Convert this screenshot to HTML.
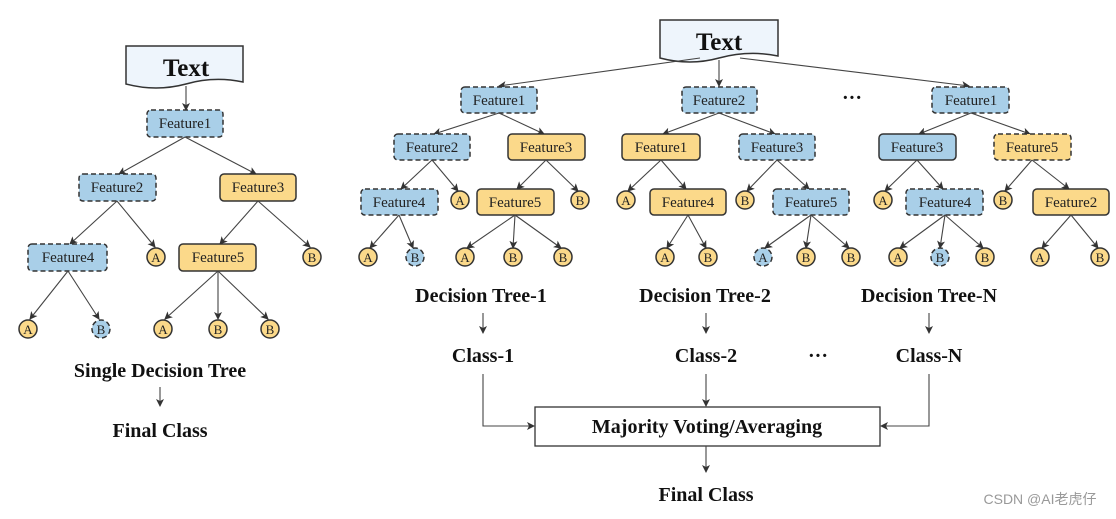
<!DOCTYPE html>
<html><head><meta charset="utf-8"><style>
html,body{margin:0;padding:0;background:#fff;}
svg{display:block;}
.n{font-family:"Liberation Serif",serif;font-size:15px;fill:#222;text-anchor:middle;}
.c{font-family:"Liberation Serif",serif;font-size:13px;fill:#222;text-anchor:middle;}
.b{font-family:"Liberation Serif",serif;font-weight:bold;font-size:20px;fill:#111;text-anchor:middle;}
.bl{fill:#a9cfe8;stroke:#333;stroke-width:1.5;stroke-dasharray:5,3;}
.bs{fill:#a9cfe8;stroke:#333;stroke-width:1.5;}
.yl{fill:#fbd98a;stroke:#333;stroke-width:1.5;}
.yd{fill:#fbd98a;stroke:#333;stroke-width:1.5;stroke-dasharray:5,3;}
line,path.e{stroke:#444;stroke-width:1.1;fill:none;marker-end:url(#ar);}
</style></head><body>
<svg width="1116" height="519" viewBox="0 0 1116 519" xmlns="http://www.w3.org/2000/svg">
<defs><marker id="ar" markerWidth="8" markerHeight="8" refX="7" refY="4" orient="auto" markerUnits="userSpaceOnUse"><path d="M0,0 L8,4 L0,8 L2,4 Z" fill="#333"/></marker></defs>

<!-- LEFT TREE -->
<path d="M126,46 H243 V82 Q214,76 186,84 Q156,92 126,84 Z" fill="#eef5fc" stroke="#333" stroke-width="1.5"/>
<text class="b" x="186" y="76" style="font-size:25px">Text</text>
<line x1="186" y1="86" x2="186" y2="110"/>
<rect class="bl" x="147" y="110" width="76" height="27" rx="4"/><text class="n" x="185" y="128">Feature1</text>
<line x1="185" y1="137" x2="119" y2="174"/><line x1="185" y1="137" x2="256" y2="174"/>
<rect class="bl" x="79" y="174" width="77" height="27" rx="4"/><text class="n" x="117" y="192">Feature2</text>
<rect class="yl" x="220" y="174" width="76" height="27" rx="4"/><text class="n" x="258" y="192">Feature3</text>
<line x1="117" y1="201" x2="70" y2="244"/><line x1="117" y1="201" x2="155" y2="247"/>
<line x1="258" y1="201" x2="220" y2="244"/><line x1="258" y1="201" x2="310" y2="247"/>
<rect class="bl" x="28" y="244" width="79" height="27" rx="4"/><text class="n" x="68" y="262">Feature4</text>
<rect class="yl" x="179" y="244" width="77" height="27" rx="4"/><text class="n" x="218" y="262">Feature5</text>
<circle class="yl" cx="156" cy="257" r="9"/><text class="c" x="156" y="262">A</text>
<circle class="yl" cx="312" cy="257" r="9"/><text class="c" x="312" y="262">B</text>
<line x1="68" y1="271" x2="30" y2="319"/><line x1="68" y1="271" x2="99" y2="319"/>
<line x1="218" y1="271" x2="165" y2="319"/><line x1="218" y1="271" x2="218" y2="319"/><line x1="218" y1="271" x2="268" y2="319"/>
<circle class="yl" cx="28" cy="329" r="9"/><text class="c" x="28" y="334">A</text>
<circle class="bl" cx="101" cy="329" r="9"/><text class="c" x="101" y="334">B</text>
<circle class="yl" cx="163" cy="329" r="9"/><text class="c" x="163" y="334">A</text>
<circle class="yl" cx="218" cy="329" r="9"/><text class="c" x="218" y="334">B</text>
<circle class="yl" cx="270" cy="329" r="9"/><text class="c" x="270" y="334">B</text>
<text class="b" x="160" y="377">Single Decision Tree</text>
<line x1="160" y1="387" x2="160" y2="406"/>
<text class="b" x="160" y="437">Final Class</text>

<!-- RIGHT TOP -->
<path d="M660,20 H778 V56 Q749,50 719,58 Q690,66 660,58 Z" fill="#eef5fc" stroke="#333" stroke-width="1.5"/>
<text class="b" x="719" y="50" style="font-size:25px">Text</text>
<line x1="700" y1="58" x2="499" y2="86"/>
<line x1="719" y1="60" x2="719" y2="86"/>
<line x1="740" y1="58" x2="969" y2="86"/>
<text class="b" x="852" y="104">···</text>

<!-- TREE 1 -->
<rect class="bl" x="461" y="87" width="76" height="26" rx="4"/><text class="n" x="499" y="105">Feature1</text>
<line x1="499" y1="113" x2="434" y2="134"/><line x1="499" y1="113" x2="544" y2="134"/>
<rect class="bl" x="394" y="134" width="76" height="26" rx="4"/><text class="n" x="432" y="152">Feature2</text>
<rect class="yl" x="508" y="134" width="77" height="26" rx="4"/><text class="n" x="546" y="152">Feature3</text>
<line x1="432" y1="160" x2="401" y2="189"/><line x1="432" y1="160" x2="458" y2="191"/>
<line x1="546" y1="160" x2="517" y2="189"/><line x1="546" y1="160" x2="578" y2="191"/>
<rect class="bl" x="361" y="189" width="77" height="26" rx="4"/><text class="n" x="399" y="207">Feature4</text>
<circle class="yl" cx="460" cy="200" r="9"/><text class="c" x="460" y="205">A</text>
<rect class="yl" x="477" y="189" width="77" height="26" rx="4"/><text class="n" x="515" y="207">Feature5</text>
<circle class="yl" cx="580" cy="200" r="9"/><text class="c" x="580" y="205">B</text>
<line x1="399" y1="215" x2="370" y2="248"/><line x1="399" y1="215" x2="413" y2="248"/>
<line x1="515" y1="215" x2="467" y2="248"/><line x1="515" y1="215" x2="513" y2="248"/><line x1="515" y1="215" x2="561" y2="248"/>
<circle class="yl" cx="368" cy="257" r="9"/><text class="c" x="368" y="262">A</text>
<circle class="bl" cx="415" cy="257" r="9"/><text class="c" x="415" y="262">B</text>
<circle class="yl" cx="465" cy="257" r="9"/><text class="c" x="465" y="262">A</text>
<circle class="yl" cx="513" cy="257" r="9"/><text class="c" x="513" y="262">B</text>
<circle class="yl" cx="563" cy="257" r="9"/><text class="c" x="563" y="262">B</text>

<!-- TREE 2 -->
<rect class="bl" x="682" y="87" width="75" height="26" rx="4"/><text class="n" x="719" y="105">Feature2</text>
<line x1="719" y1="113" x2="663" y2="134"/><line x1="719" y1="113" x2="775" y2="134"/>
<rect class="yl" x="622" y="134" width="78" height="26" rx="4"/><text class="n" x="661" y="152">Feature1</text>
<rect class="bl" x="739" y="134" width="76" height="26" rx="4"/><text class="n" x="777" y="152">Feature3</text>
<line x1="661" y1="160" x2="628" y2="191"/><line x1="661" y1="160" x2="686" y2="189"/>
<line x1="777" y1="160" x2="747" y2="191"/><line x1="777" y1="160" x2="809" y2="189"/>
<circle class="yl" cx="626" cy="200" r="9"/><text class="c" x="626" y="205">A</text>
<rect class="yl" x="650" y="189" width="76" height="26" rx="4"/><text class="n" x="688" y="207">Feature4</text>
<circle class="yl" cx="745" cy="200" r="9"/><text class="c" x="745" y="205">B</text>
<rect class="bl" x="773" y="189" width="76" height="26" rx="4"/><text class="n" x="811" y="207">Feature5</text>
<line x1="688" y1="215" x2="667" y2="248"/><line x1="688" y1="215" x2="706" y2="248"/>
<line x1="811" y1="215" x2="765" y2="248"/><line x1="811" y1="215" x2="806" y2="248"/><line x1="811" y1="215" x2="849" y2="248"/>
<circle class="yl" cx="665" cy="257" r="9"/><text class="c" x="665" y="262">A</text>
<circle class="yl" cx="708" cy="257" r="9"/><text class="c" x="708" y="262">B</text>
<circle class="bl" cx="763" cy="257" r="9"/><text class="c" x="763" y="262">A</text>
<circle class="yl" cx="806" cy="257" r="9"/><text class="c" x="806" y="262">B</text>
<circle class="yl" cx="851" cy="257" r="9"/><text class="c" x="851" y="262">B</text>

<!-- TREE N -->
<rect class="bl" x="932" y="87" width="77" height="26" rx="4"/><text class="n" x="971" y="105">Feature1</text>
<line x1="971" y1="113" x2="919" y2="134"/><line x1="971" y1="113" x2="1030" y2="134"/>
<rect class="bs" x="879" y="134" width="77" height="26" rx="4"/><text class="n" x="917" y="152">Feature3</text>
<rect class="yd" x="994" y="134" width="77" height="26" rx="4"/><text class="n" x="1032" y="152">Feature5</text>
<line x1="917" y1="160" x2="885" y2="191"/><line x1="917" y1="160" x2="943" y2="189"/>
<line x1="1032" y1="160" x2="1005" y2="191"/><line x1="1032" y1="160" x2="1069" y2="189"/>
<circle class="yl" cx="883" cy="200" r="9"/><text class="c" x="883" y="205">A</text>
<rect class="bl" x="906" y="189" width="77" height="26" rx="4"/><text class="n" x="945" y="207">Feature4</text>
<circle class="yl" cx="1003" cy="200" r="9"/><text class="c" x="1003" y="205">B</text>
<rect class="yl" x="1033" y="189" width="76" height="26" rx="4"/><text class="n" x="1071" y="207">Feature2</text>
<line x1="945" y1="215" x2="900" y2="248"/><line x1="945" y1="215" x2="940" y2="248"/><line x1="945" y1="215" x2="983" y2="248"/>
<line x1="1071" y1="215" x2="1042" y2="248"/><line x1="1071" y1="215" x2="1098" y2="248"/>
<circle class="yl" cx="898" cy="257" r="9"/><text class="c" x="898" y="262">A</text>
<circle class="bl" cx="940" cy="257" r="9"/><text class="c" x="940" y="262">B</text>
<circle class="yl" cx="985" cy="257" r="9"/><text class="c" x="985" y="262">B</text>
<circle class="yl" cx="1040" cy="257" r="9"/><text class="c" x="1040" y="262">A</text>
<circle class="yl" cx="1100" cy="257" r="9"/><text class="c" x="1100" y="262">B</text>

<!-- BOTTOM -->
<text class="b" x="481" y="302">Decision Tree-1</text>
<text class="b" x="705" y="302">Decision Tree-2</text>
<text class="b" x="929" y="302">Decision Tree-N</text>
<line x1="483" y1="313" x2="483" y2="333"/>
<line x1="706" y1="313" x2="706" y2="333"/>
<line x1="929" y1="313" x2="929" y2="333"/>
<text class="b" x="483" y="362">Class-1</text>
<text class="b" x="706" y="362">Class-2</text>
<text class="b" x="818" y="362">···</text>
<text class="b" x="929" y="362">Class-N</text>
<path class="e" d="M483,374 V426 H534"/>
<path class="e" d="M929,374 V426 H881"/>
<line x1="706" y1="374" x2="706" y2="406"/>
<rect x="535" y="407" width="345" height="39" fill="#fff" stroke="#333" stroke-width="1.3"/>
<text class="b" x="707" y="433">Majority Voting/Averaging</text>
<line x1="706" y1="446" x2="706" y2="472"/>
<text class="b" x="706" y="501">Final Class</text>
<text x="1040" y="504" style="font-family:'Liberation Sans','Noto Sans CJK SC',sans-serif;font-size:14px;fill:#999;text-anchor:middle">CSDN @AI老虎仔</text>
</svg>
</body></html>
